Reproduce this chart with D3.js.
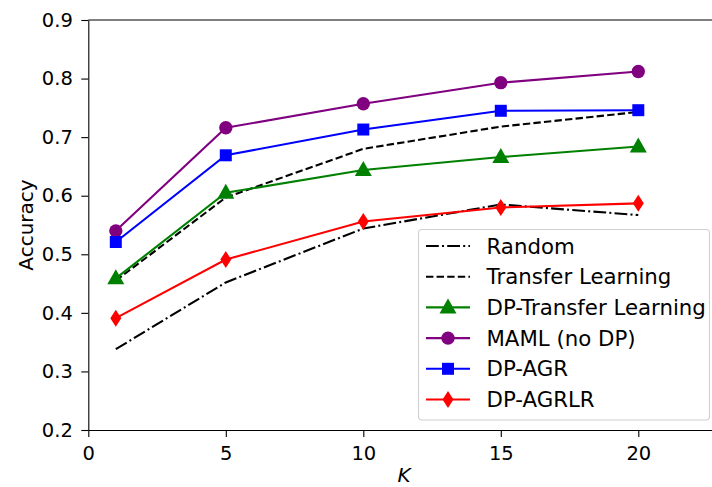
<!DOCTYPE html>
<html>
<head>
<meta charset="utf-8">
<script src="https://cdn.jsdelivr.net/npm/d3@7"></script>
<style>
  html, body { margin: 0; padding: 0; background: #fff; }
  svg { display: block; font-family: "DejaVu Sans", sans-serif; }
</style>
</head>
<body>
<svg id="chart" width="712" height="487"></svg>
<script>
// Shot counts on the x axis
const kValues = [1, 5, 10, 15, 20];

// Accuracy per method
const random = [0.338, 0.452, 0.544, 0.585, 0.567];
const transferLearning = [0.455, 0.597, 0.680, 0.718, 0.743];
const dpTransferLearning = [0.459, 0.605, 0.644, 0.666, 0.684];
const maml = [0.540, 0.716, 0.757, 0.793, 0.812];
const dpAgr = [0.521, 0.669, 0.713, 0.745, 0.746];
const dpAgrlr = [0.391, 0.491, 0.556, 0.580, 0.587];

const xTicks = [0, 5, 10, 15, 20];
const yTicks = [0.2, 0.3, 0.4, 0.5, 0.6, 0.7, 0.8, 0.9];

const seriesList = [
  { name: "Random", values: random, color: "#000000", dash: "12.8,3.2,2,3.2", marker: null },
  { name: "Transfer Learning", values: transferLearning, color: "#000000", dash: "7.4,3.2", marker: null },
  { name: "DP-Transfer Learning", values: dpTransferLearning, color: "#008000", dash: null, marker: "triangle" },
  { name: "MAML (no DP)", values: maml, color: "#800080", dash: null, marker: "circle" },
  { name: "DP-AGR", values: dpAgr, color: "#0000ff", dash: null, marker: "square" },
  { name: "DP-AGRLR", values: dpAgrlr, color: "#ff0000", dash: null, marker: "diamond" }
];

const svg = d3.select("#chart");
const plotLeft = 88.3, plotTop = 20, plotBottom = 430;
const unit = (638.3 - plotLeft) / 20;

const x = d3.scaleLinear().domain([0, (712 - plotLeft) / unit]).range([plotLeft, 712]);
const y = d3.scaleLinear().domain([0.2, 0.9]).range([plotBottom, plotTop]);

const tickFont = 19.5, labelFont = 20, legendFont = 21.3;

// Axes
const xAxis = d3.axisBottom(x).tickValues(xTicks).tickFormat(d3.format("d"))
  .tickSizeInner(7).tickSizeOuter(0).tickPadding(9.5);
const yAxis = d3.axisLeft(y).tickValues(yTicks).tickFormat(d3.format(".1f"))
  .tickSizeInner(7).tickSizeOuter(0).tickPadding(8.5);

const gx = svg.append("g").attr("transform", `translate(0,${plotBottom})`).call(xAxis);
const gy = svg.append("g").attr("transform", `translate(${plotLeft},0)`).call(yAxis);
[gx, gy].forEach(g => {
  g.select(".domain").attr("stroke", "#000").attr("stroke-width", 1.1);
  g.selectAll(".tick line").attr("stroke", "#000").attr("stroke-width", 1.1);
  g.selectAll(".tick text").attr("fill", "#000")
    .style("font-size", tickFont + "px").style("font-family", "DejaVu Sans");
});
// top spine
svg.append("line").attr("x1", plotLeft).attr("x2", 712).attr("y1", plotTop).attr("y2", plotTop)
  .attr("stroke", "#000").attr("stroke-width", 1.1);

// Axis titles
svg.append("text").attr("x", 404).attr("y", 481.5)
  .attr("text-anchor", "middle").style("font-size", labelFont + "px")
  .style("font-style", "italic").text("K");
svg.append("text").attr("transform", `translate(32.5,${(plotTop + plotBottom) / 2}) rotate(-90)`)
  .attr("text-anchor", "middle").style("font-size", labelFont + "px").text("Accuracy");

// Marker shapes
function markerPath(type) {
  switch (type) {
    case "triangle": return "M0,-9L8.5,6L-8.5,6Z";
    case "circle": return d3.symbol(d3.symbolCircle, 140)();
    case "square": return "M-6,-6H6V6H-6Z";
    case "diamond": return "M0,-8.5L5.5,0L0,8.5L-5.5,0Z";
  }
  return null;
}

const line = d3.line().x((d, i) => x(kValues[i])).y(d => y(d));

const plot = svg.append("g");
seriesList.forEach(s => {
  plot.append("path").datum(s.values).attr("d", line)
    .attr("fill", "none").attr("stroke", s.color).attr("stroke-width", 2.1)
    .attr("stroke-dasharray", s.dash);
  if (s.marker) {
    plot.selectAll(null).data(s.values).enter().append("path")
      .attr("d", markerPath(s.marker))
      .attr("transform", (d, i) => `translate(${x(kValues[i])},${y(d)})`)
      .attr("fill", s.color);
  }
});

// Legend
const lg = svg.append("g");
lg.append("rect").attr("x", 418.5).attr("y", 229.5).attr("width", 291).attr("height", 190.5)
  .attr("rx", 3.5).attr("fill", "#fff").attr("fill-opacity", 0.8)
  .attr("stroke", "#d0d0d0").attr("stroke-width", 1.1);
seriesList.forEach((s, i) => {
  const yy = 246 + i * 30.7;
  lg.append("line").attr("x1", 426).attr("x2", 470).attr("y1", yy).attr("y2", yy)
    .attr("stroke", s.color).attr("stroke-width", 2.1).attr("stroke-dasharray", s.dash);
  if (s.marker) {
    lg.append("path").attr("d", markerPath(s.marker))
      .attr("transform", `translate(448,${yy})`).attr("fill", s.color);
  }
  lg.append("text").attr("x", 486.5).attr("y", yy).attr("dy", "0.36em")
    .style("font-size", legendFont + "px").text(s.name);
});
</script>
</body>
</html>
